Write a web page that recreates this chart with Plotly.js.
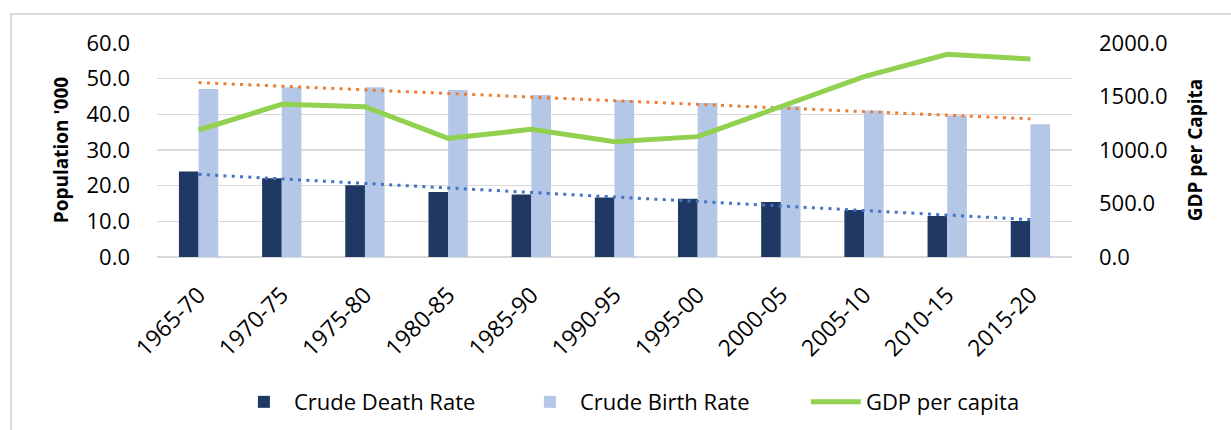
<!DOCTYPE html>
<html>
<head>
<meta charset="utf-8">
<script src="https://cdn.plot.ly/plotly-3.0.1.min.js"></script>
<style>
html, body { margin: 0; padding: 0; background: #fff; }
#wrap { position: relative; width: 1231px; height: 430px; overflow: hidden; }
#chart { width: 1231px; height: 430px; }
#frame { position: absolute; left: 10px; top: 13px; width: 1240px; height: 440px;
  border-top: 2px solid #D9D9D9; border-left: 2px solid #D9D9D9; pointer-events: none; }
</style>
</head>
<body>
<div id="wrap">
<div id="chart"></div>
<div id="frame"></div>
</div>
<script>
const categories = ["1965-70","1970-75","1975-80","1980-85","1985-90","1990-95","1995-00","2000-05","2005-10","2010-15","2015-20"];
const deathRate = [24.0, 22.1, 20.1, 18.2, 17.5, 16.7, 16.3, 15.4, 13.2, 11.5, 10.1];
const birthRate = [47.1, 47.6, 47.6, 46.8, 45.4, 44.0, 43.2, 42.3, 41.1, 39.7, 37.2];
const gdpPerCapita = [1187, 1427, 1405, 1109, 1193, 1078, 1125, 1405, 1685, 1894, 1850];

// Linear (least-squares) trendlines, as in the original spreadsheet chart
function linearTrend(vals) {
  const n = vals.length;
  const xs = vals.map((_, i) => i + 1);
  const mx = xs.reduce((a, b) => a + b, 0) / n;
  const my = vals.reduce((a, b) => a + b, 0) / n;
  let sxy = 0, sxx = 0;
  for (let i = 0; i < n; i++) { sxy += (xs[i] - mx) * (vals[i] - my); sxx += (xs[i] - mx) ** 2; }
  const slope = sxy / sxx;
  return xs.map(x => my + slope * (x - mx));
}

const FONT = "Open Sans, Noto Sans, DejaVu Sans, sans-serif";

const traces = [
  { type: "bar", name: "Crude Death Rate", x: categories, y: deathRate,
    marker: { color: "#203864" }, yaxis: "y" },
  { type: "bar", name: "Crude Birth Rate", x: categories, y: birthRate,
    marker: { color: "#B4C7E7" }, yaxis: "y" },
  { type: "scatter", mode: "lines", name: "Linear (Crude Death Rate)", x: categories,
    y: linearTrend(deathRate), showlegend: false,
    line: { color: "#4472C4", width: 3, dash: "3px,5.3px" }, yaxis: "y" },
  { type: "scatter", mode: "lines", name: "Linear (Crude Birth Rate)", x: categories,
    y: linearTrend(birthRate), showlegend: false,
    line: { color: "#ED7D31", width: 3, dash: "3px,5.3px" }, yaxis: "y" },
  { type: "scatter", mode: "lines", name: "GDP per capita", x: categories, y: gdpPerCapita,
    line: { color: "#92D050", width: 5 }, yaxis: "y2" }
];

const layout = {
  width: 1231, height: 430,
  margin: { l: 157, r: 159, t: 43, b: 173 },
  paper_bgcolor: "#ffffff", plot_bgcolor: "#ffffff",
  font: { family: FONT, size: 21, color: "#000000" },
  barmode: "group", bargap: 0.527, bargroupgap: 0,
  showlegend: true,
  legend: { orientation: "h", xref: "container", x: 0.19, xanchor: "left",
    yref: "container", y: 0.065, yanchor: "middle",
    font: { family: FONT, size: 22, color: "#000000" },
    entrywidth: 221, entrywidthmode: "pixels", itemwidth: 50, traceorder: "normal" },
  xaxis: { type: "category", tickangle: -45, tickfont: { family: FONT, size: 23 },
    ticklabelstandoff: 19,
    showgrid: false, showline: false, ticks: "", zeroline: false, automargin: false },
  yaxis: { range: [0, 60], dtick: 10, tickformat: ".1f", showgrid: true, automargin: false,
    gridcolor: "#D9D9D9", gridwidth: 1.5, zeroline: true, zerolinecolor: "#D9D9D9", zerolinewidth: 1.5,
    ticks: "", ticklabelstandoff: 26, tickfont: { family: FONT, size: 22 },
    title: { text: "Population '000", font: { family: FONT, size: 19, weight: "bold" }, standoff: 12 } },
  yaxis2: { range: [0, 2000], dtick: 500, tickformat: ".1f", overlaying: "y", side: "right",
    showgrid: false, zeroline: false, ticks: "", ticklabelstandoff: 26, automargin: false,
    tickfont: { family: FONT, size: 22 },
    title: { text: "GDP per Capita", font: { family: FONT, size: 19, weight: "bold" }, standoff: 22 } }
};

Plotly.newPlot("chart", traces, layout, { displayModeBar: false, staticPlot: true });
</script>
</body>
</html>
